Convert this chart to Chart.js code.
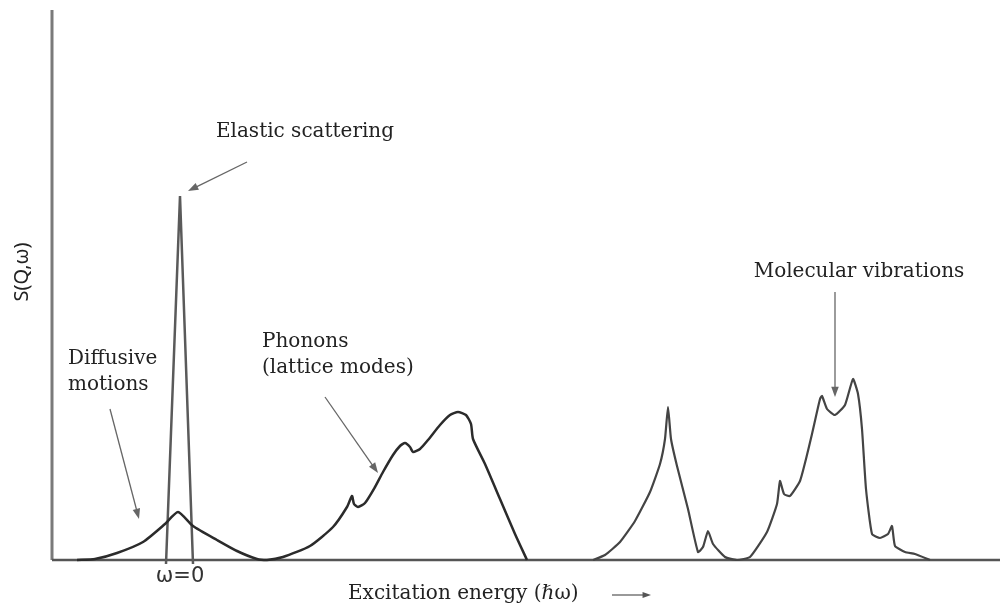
<!DOCTYPE html>
<html lang="en">
<head>
  <meta charset="UTF-8" />
  <title>Neutron scattering spectrum sketch</title>
  <script src="https://cdn.jsdelivr.net/npm/chart.js"></script>
  <style>
    html, body { margin: 0; padding: 0; background: #fff; }
    .wrap { width: 1000px; height: 607px; position: relative; }
  </style>
</head>
<body>
  <div class="wrap"><canvas id="spectrum" width="1000" height="607"></canvas></div>
  <script>
    // energy in arbitrary units (omega = 0 at the elastic line), intensity in arbitrary units
    const elasticX = [-1.4, 0, 1.3];
    const elasticY = [-1, 91, -1];

    const lowX = [-10.3, -8.5, -6.3, -3.7, -1.5, -0.2, 1.3, 3.7, 5.7, 7.7, 8.7, 10.3, 13, 15.3, 16.7,
      17.2, 17.4, 17.8, 18.5, 19.5, 20.3, 21.3, 22, 22.5, 23, 23.3, 24, 24.8, 26, 27, 27.8, 28.6,
      29.1, 29.3, 30.5, 32, 33.5, 34.7];
    const lowY = [0, 0.25, 1.75, 4.5, 9, 12, 8.5, 5, 2.25, 0.25, 0, 0.75, 3.5, 8.25, 13.25,
      16, 14, 13.25, 14.25, 18.25, 22, 26.25, 28.5, 29.25, 28.25, 27, 27.75, 30, 33.75, 36.25, 37, 36.25,
      34, 30.25, 24, 15.25, 6.5, 0];

    const molX = [41.3, 42.5, 44, 45.5, 47, 48, 48.5, 48.8, 49.1, 49.7, 50.8, 51.8, 52.3, 52.8, 53.3,
      54.5, 55.7, 57, 58.7, 59.7, 60, 60.4, 61, 62, 62.6, 63.2, 64, 64.2, 64.7, 65.5, 66.5, 67.3,
      67.8, 68.2, 68.6, 69.2, 70, 70.8, 71.2, 71.5, 72.5, 73.5, 75];
    const molY = [0, 1.25, 4.5, 9.75, 17, 24, 30.25, 38.25, 30.25, 23.5, 12.75, 2, 3.25, 7.25, 4,
      0.75, 0, 0.75, 7, 14, 19.75, 16.5, 16, 19.75, 25.25, 31.5, 40.25, 41, 37.75, 36.25, 38.75, 45.25,
      41.5, 32.75, 17.75, 6.5, 5.5, 6.5, 8.5, 3.5, 2, 1.5, 0];

    // annotations: text lines, anchor point (data units), arrow from -> to
    const notes = [
      { lines: ['Elastic scattering'], x: 12.5, y: 107, align: 'center', arrow: [6.7, 99.5, 0.8, 92.25] },
      { lines: ['Diffusive', 'motions'], x: -11.2, y: 50.25, align: 'left', arrow: [-7, 37.75, -4.1, 10.25] },
      { lines: ['Phonons', '(lattice modes)'], x: 8.2, y: 54.5, align: 'left', arrow: [14.5, 40.75, 19.8, 21.75] },
      { lines: ['Molecular vibrations'], x: 67.9, y: 72, align: 'center', arrow: [65.5, 67, 65.5, 40.75] }
    ];

    const toPts = (xs, ys) => xs.map((x, i) => ({ x: x, y: ys[i] }));

    function arrow(ctx, x1, y1, x2, y2, head) {
      const a = Math.atan2(y2 - y1, x2 - x1);
      ctx.beginPath();
      ctx.moveTo(x1, y1);
      ctx.lineTo(x2 - Math.cos(a) * head * 0.8, y2 - Math.sin(a) * head * 0.8);
      ctx.stroke();
      ctx.beginPath();
      ctx.moveTo(x2, y2);
      ctx.lineTo(x2 - head * Math.cos(a - 0.35), y2 - head * Math.sin(a - 0.35));
      ctx.lineTo(x2 - head * Math.cos(a + 0.35), y2 - head * Math.sin(a + 0.35));
      ctx.closePath();
      ctx.fill();
    }

    const sketchPlugin = {
      id: 'sketch',
      beforeDatasetsDraw(chart) {
        const { ctx, chartArea, scales } = chart;
        const y0 = scales.y.getPixelForValue(0);
        ctx.save();
        ctx.strokeStyle = '#7a7a7a';
        ctx.lineWidth = 3;
        ctx.beginPath();
        ctx.moveTo(chartArea.left, chartArea.top);
        ctx.lineTo(chartArea.left, y0);
        ctx.stroke();
        ctx.strokeStyle = '#555';
        ctx.lineWidth = 2.5;
        ctx.beginPath();
        ctx.moveTo(chartArea.left, y0);
        ctx.lineTo(chartArea.right, y0);
        ctx.stroke();
        ctx.restore();
      },
      afterDatasetsDraw(chart) {
        const { ctx, scales } = chart;
        const sx = v => scales.x.getPixelForValue(v);
        const sy = v => scales.y.getPixelForValue(v);
        ctx.save();
        ctx.fillStyle = '#222';
        ctx.textBaseline = 'middle';
        ctx.font = '20px "DejaVu Serif"';
        notes.forEach(n => {
          ctx.textAlign = n.align;
          n.lines.forEach((t, i) => ctx.fillText(t, sx(n.x), sy(n.y) + i * 26));
          ctx.strokeStyle = '#666';
          ctx.fillStyle = '#666';
          ctx.lineWidth = 1.3;
          arrow(ctx, sx(n.arrow[0]), sy(n.arrow[1]), sx(n.arrow[2]), sy(n.arrow[3]), 11);
          ctx.fillStyle = '#222';
        });

        // omega = 0 mark under the elastic line
        ctx.textAlign = 'center';
        ctx.font = '21px "DejaVu Sans"';
        ctx.fillStyle = '#333';
        ctx.fillText('ω=0', sx(0), sy(0) + 17);

        // axis titles
        ctx.fillStyle = '#222';
        ctx.font = '20px "DejaVu Serif"';
        ctx.textAlign = 'left';
        ctx.fillText('Excitation energy (ℏω)', 348, 594);
        ctx.strokeStyle = '#555';
        ctx.fillStyle = '#555';
        ctx.lineWidth = 1.2;
        arrow(ctx, 612, 595, 651, 595, 9);

        ctx.save();
        ctx.translate(22, 272);
        ctx.rotate(-Math.PI / 2);
        ctx.textAlign = 'center';
        ctx.fillStyle = '#222';
        ctx.font = '20px "Noto Sans"';
        ctx.fillText('S(Q,ω)', 0, 0);
        ctx.restore();
        ctx.restore();
      }
    };

    const lineStyle = (color, width, tension) => ({
      borderColor: color,
      borderWidth: width,
      pointRadius: 0,
      tension: tension,
      fill: false,
      clip: false
    });

    new Chart(document.getElementById('spectrum'), {
      type: 'line',
      data: {
        datasets: [
          Object.assign({ label: 'Diffusive + phonons', data: toPts(lowX, lowY) }, lineStyle('#2b2b2b', 2.5, 0.2)),
          Object.assign({ label: 'Elastic', data: toPts(elasticX, elasticY) }, lineStyle('#5a5a5a', 2.5, 0)),
          Object.assign({ label: 'Molecular vibrations', data: toPts(molX, molY) }, lineStyle('#444', 2.2, 0.15))
        ]
      },
      options: {
        responsive: false,
        animation: false,
        layout: { padding: { left: 52, top: 10, right: 0, bottom: 47 } },
        plugins: { legend: { display: false }, tooltip: { enabled: false } },
        scales: {
          x: { type: 'linear', min: -12.8, max: 82, display: false },
          y: { min: 0, max: 137.5, display: false }
        }
      },
      plugins: [sketchPlugin]
    });
  </script>
</body>
</html>
